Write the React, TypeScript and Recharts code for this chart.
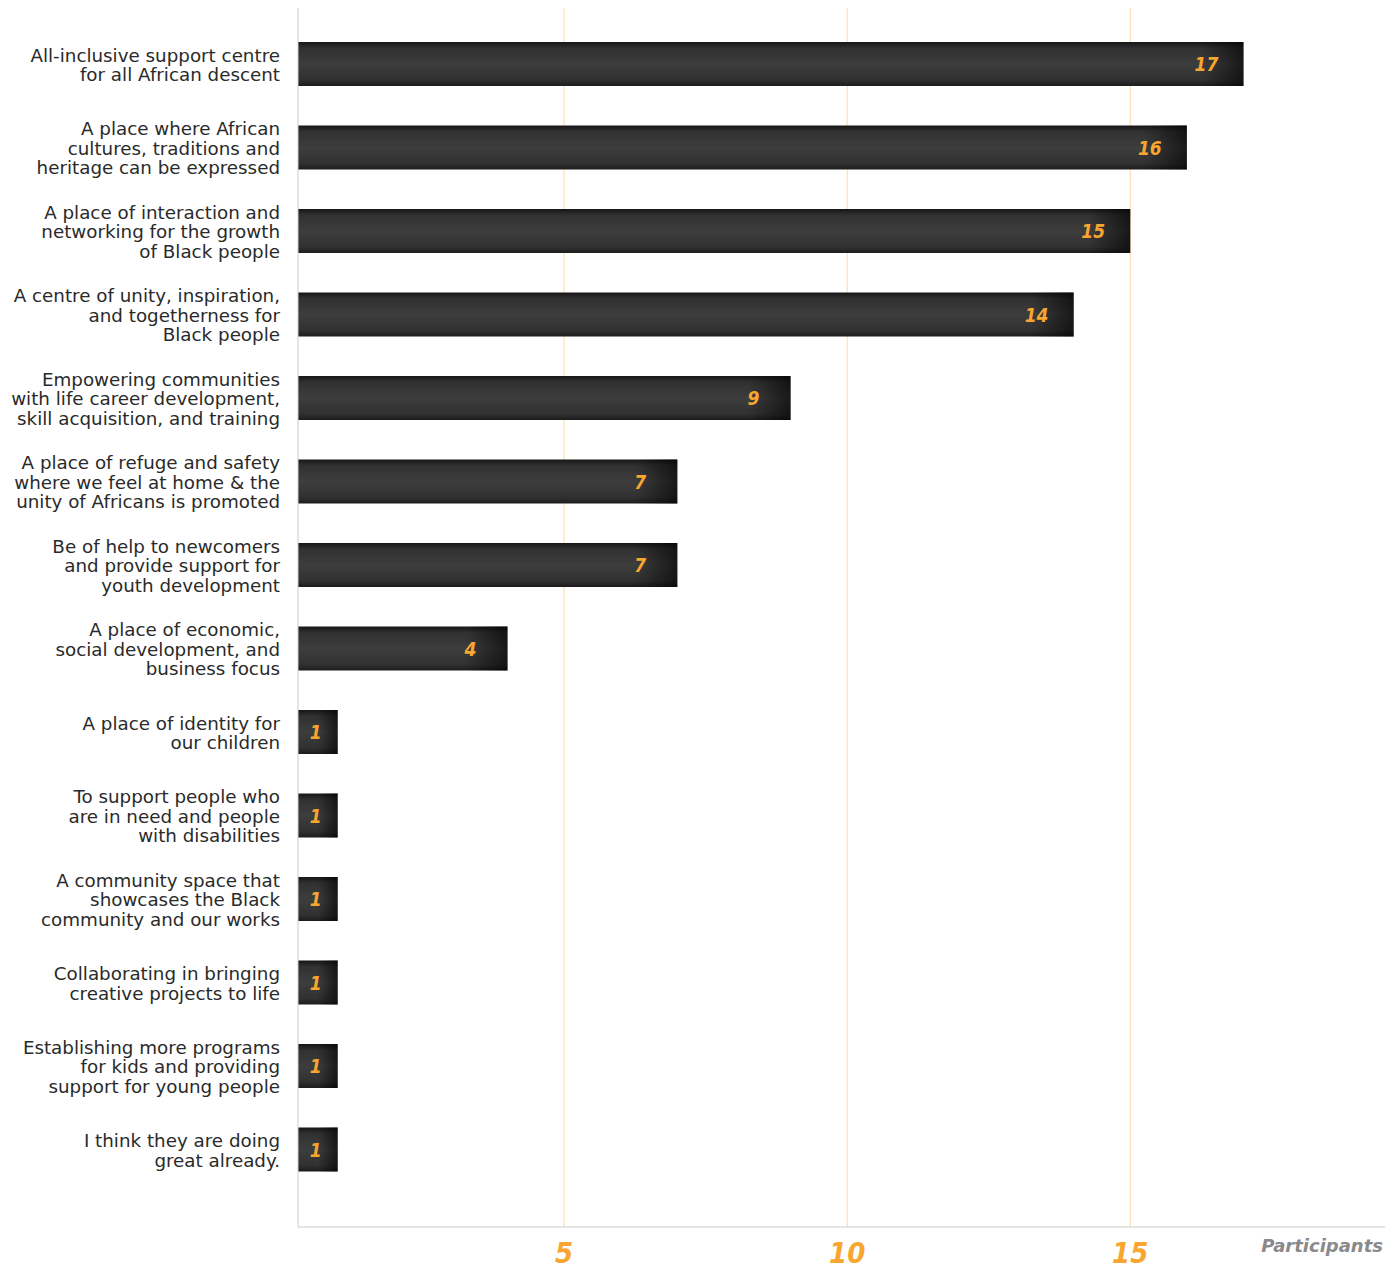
import React from 'react';
import { BarChart, Bar, XAxis, YAxis, CartesianGrid, LabelList } from 'recharts';

// survey answers, top to bottom, line breaks as in the original graphic
const categories = [
  'All-inclusive support centre\nfor all African descent',
  'A place where African\ncultures, traditions and\nheritage can be expressed',
  'A place of interaction and\nnetworking for the growth\nof Black people',
  'A centre of unity, inspiration,\nand togetherness for\nBlack people',
  'Empowering communities\nwith life career development,\nskill acquisition, and training',
  'A place of refuge and safety\nwhere we feel at home & the\nunity of Africans is promoted',
  'Be of help to newcomers\nand provide support for\nyouth development',
  'A place of economic,\nsocial development, and\nbusiness focus',
  'A place of identity for\nour children',
  'To support people who\nare in need and people\nwith disabilities',
  'A community space that\nshowcases the Black\ncommunity and our works',
  'Collaborating in bringing\ncreative projects to life',
  'Establishing more programs\nfor kids and providing\nsupport for young people',
  'I think they are doing\ngreat already.',
];

const participants = [17, 16, 15, 14, 9, 7, 7, 4, 1, 1, 1, 1, 1, 1];

const xTicks = [5, 10, 15];

const rows = categories.map((category, i) => ({ category, participants: participants[i] }));

const ORANGE = '#f8a62f';
const LABEL_FONT = '"DejaVu Sans", sans-serif';
const HAND_FONT = '"DejaVu Sans Condensed", "DejaVu Sans", sans-serif';

const CategoryTick = (props: any) => {
  const { x, y, payload } = props;
  const lines: string[] = String(payload.value).split('\n');
  const lh = 19.5;
  const start = -((lines.length - 1) * lh) / 2 + 1;
  return (
    <text x={x} y={y} textAnchor="end" fill="#2a2a2a" fontFamily={LABEL_FONT} fontSize={18.3}>
      {lines.map((l, i) => (
        <tspan key={i} x={x} y={y + start + i * lh} dominantBaseline="central">
          {l}
        </tspan>
      ))}
    </text>
  );
};

const ValueTick = (props: any) => {
  const { x, y, payload } = props;
  return (
    <text x={x} y={y + 18} textAnchor="middle" dominantBaseline="central" fill={ORANGE}
      fontFamily={HAND_FONT} fontSize={29} fontWeight={700} fontStyle="italic">
      {payload.value}
    </text>
  );
};

const ShadedBar = (props: any) => {
  const { x, y, width, height } = props;
  if (!width || width <= 0) return null;
  const edge = Math.min(42, width * 0.5);
  return (
    <g>
      <rect x={x} y={y} width={width} height={height} fill="url(#barVertical)" />
      <rect x={x + width - edge} y={y} width={edge} height={height} fill="url(#barRightEdge)" />
    </g>
  );
};

const ValueLabel = (props: any) => {
  const { x, y, width, height, value } = props;
  const off = width > 120 ? 37 : 22;
  return (
    <text x={x + width - off} y={y + height / 2} textAnchor="middle" dominantBaseline="central"
      fill={ORANGE} fontFamily={HAND_FONT} fontSize={19} fontWeight={700} fontStyle="italic">
      {value}
    </text>
  );
};

const ParticipantsLabel = (props: any) => {
  const { viewBox } = props;
  return (
    <text x={viewBox.x + viewBox.width - 2} y={viewBox.y + 18} textAnchor="end" dominantBaseline="central"
      fill="#8a8a8a" fontFamily={LABEL_FONT} fontSize={18} fontWeight={600} fontStyle="italic">
      Participants
    </text>
  );
};

export default function App() {
  return (
    <div style={{ position: 'absolute', left: 0, top: 0, background: '#fff' }}>
      <BarChart width={1400} height={1270} data={rows} layout="vertical"
        margin={{ top: 8, right: 15, bottom: 0, left: 0 }}>
        <defs>
          <linearGradient id="barVertical" x1="0" y1="0" x2="0" y2="1">
            <stop offset="0%" stopColor="#161616" />
            <stop offset="14%" stopColor="#313131" />
            <stop offset="50%" stopColor="#3d3d3d" />
            <stop offset="86%" stopColor="#313131" />
            <stop offset="100%" stopColor="#1c1c1c" />
          </linearGradient>
          <linearGradient id="barRightEdge" x1="0" y1="0" x2="1" y2="0">
            <stop offset="0%" stopColor="#000" stopOpacity={0} />
            <stop offset="100%" stopColor="#000" stopOpacity={0.6} />
          </linearGradient>
        </defs>
        <CartesianGrid horizontal={false} verticalValues={xTicks} stroke="#fcd9a6" strokeWidth={1} />
        <XAxis type="number" domain={[0.3, 19.5]} allowDataOverflow ticks={xTicks}
          axisLine={{ stroke: '#cccccc' }} tickLine={false} tick={<ValueTick />} height={43}
          label={<ParticipantsLabel />} />
        <YAxis type="category" dataKey="category" width={298} interval={0}
          axisLine={{ stroke: '#cccccc' }} tickLine={false} tick={<CategoryTick />}
          tickMargin={0} tickSize={18} padding={{ top: 14, bottom: 36 }} />
        <Bar dataKey="participants" barSize={44} shape={<ShadedBar />} isAnimationActive={false}>
          <LabelList dataKey="participants" content={<ValueLabel />} />
        </Bar>
      </BarChart>
    </div>
  );
}
